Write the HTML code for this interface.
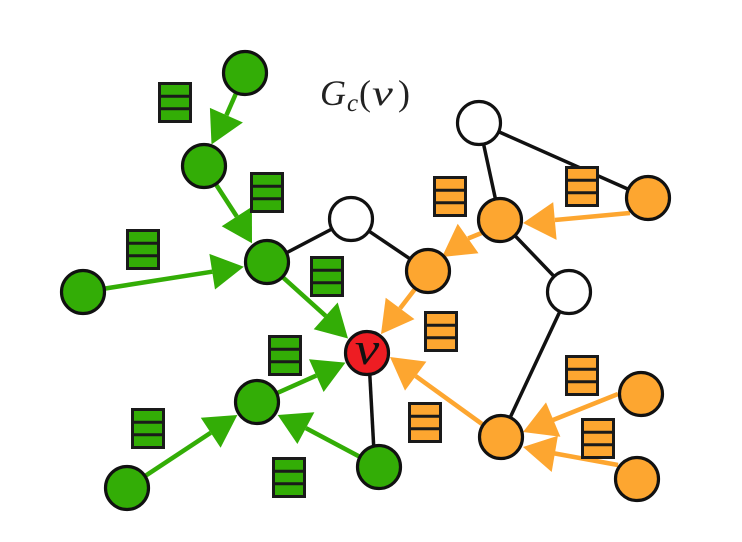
<!DOCTYPE html>
<html><head><meta charset="utf-8"><style>
html,body{margin:0;padding:0;background:#fff;}
svg{display:block;}
</style></head><body>
<svg width="742" height="542" viewBox="0 0 742 542" xmlns="http://www.w3.org/2000/svg">
<rect width="742" height="542" fill="#fff"/>
<defs>
<g id="gb"><rect x="1.5" y="1.5" width="31" height="38" fill="#33ad06" stroke="#1a1a1a" stroke-width="3"/><line x1="1.5" y1="14.2" x2="32.5" y2="14.2" stroke="#1a1a1a" stroke-width="3"/><line x1="1.5" y1="26.8" x2="32.5" y2="26.8" stroke="#1a1a1a" stroke-width="3"/></g>
<g id="ob"><rect x="1.5" y="1.5" width="31" height="38" fill="#fda630" stroke="#1a1a1a" stroke-width="3"/><line x1="1.5" y1="14.2" x2="32.5" y2="14.2" stroke="#1a1a1a" stroke-width="3"/><line x1="1.5" y1="26.8" x2="32.5" y2="26.8" stroke="#1a1a1a" stroke-width="3"/></g>
</defs>

<!-- black edges -->
<g stroke="#111" stroke-width="3.5" fill="none">
<line x1="351" y1="219" x2="267" y2="263"/>
<line x1="351" y1="219" x2="428" y2="271"/>
<line x1="479" y1="123" x2="648" y2="198"/>
<line x1="479" y1="123" x2="500" y2="220"/>
<line x1="500" y1="220" x2="569" y2="292"/>
<line x1="569" y1="292" x2="501" y2="437"/>
<line x1="369" y1="360" x2="374" y2="452"/>
</g>

<!-- green arrows -->
<g stroke="#33ad06" stroke-width="4.5" fill="none">
<line x1="245" y1="73" x2="226.4" y2="115.2"/>
<line x1="204" y1="166" x2="236.8" y2="216.5"/>
<line x1="83" y1="292" x2="212.2" y2="271.7"/>
<line x1="267" y1="263" x2="325.7" y2="315.9"/>
<line x1="257" y1="402" x2="316.3" y2="375.6"/>
<line x1="127" y1="488" x2="210.7" y2="432.7"/>
<line x1="379" y1="467" x2="305.9" y2="428.1"/>
</g>
<g fill="#33ad06">
<polygon points="211.5,144.5 242.9,122.5 209.9,107.9"/>
<polygon points="252,243.3 221.7,226.3 251.9,206.7"/>
<polygon points="243.8,266.7 215.0,289.5 209.4,253.9"/>
<polygon points="348,338.5 313.7,329.3 337.7,302.5"/>
<polygon points="345.5,362.6 323.6,392.0 309.0,359.2"/>
<polygon points="237.4,415.0 220.6,447.7 200.8,417.7"/>
<polygon points="277.7,415 314.4,412.2 297.4,444.0"/>
</g>

<!-- orange arrows -->
<g stroke="#fda630" stroke-width="4.5" fill="none">
<line x1="630" y1="213" x2="554.9" y2="220"/>
<line x1="484" y1="232" x2="468.1" y2="238.5"/>
<line x1="415" y1="289" x2="400.1" y2="308.4"/>
<line x1="482" y1="424" x2="415.7" y2="376.1"/>
<line x1="618" y1="394" x2="552.7" y2="420.1"/>
<line x1="618" y1="465" x2="554.3" y2="453.4"/>
</g>
<g fill="#fda630">
<polygon points="523,223 553.2,202.1 556.6,239.9"/>
<polygon points="442,257 457.7,223.8 478.5,253.2"/>
<polygon points="381,334.1 385.7,297.7 414.5,319.1"/>
<polygon points="390,357 426.4,361.6 405.0,390.6"/>
<polygon points="523,432 560.4,436.8 546.0,402.4"/>
<polygon points="523,447 557.9,435.8 551.7,472"/>
</g>

<!-- boxes -->
<use href="#gb" x="158" y="82"/>
<use href="#gb" x="250" y="172"/>
<use href="#gb" x="126" y="229"/>
<use href="#gb" x="310" y="256"/>
<use href="#gb" x="268" y="335"/>
<use href="#gb" x="131" y="408"/>
<use href="#gb" x="272" y="457"/>
<use href="#ob" x="433" y="176"/>
<use href="#ob" x="565" y="166"/>
<use href="#ob" x="424" y="311"/>
<use href="#ob" x="408" y="402"/>
<use href="#ob" x="565" y="355"/>
<use href="#ob" x="581" y="418"/>

<!-- nodes -->
<g stroke="#111" stroke-width="3.2">
<g fill="#33ad06">
<circle cx="245" cy="73" r="21.5"/>
<circle cx="204" cy="166" r="21.5"/>
<circle cx="267" cy="262" r="21.5"/>
<circle cx="83" cy="292" r="21.5"/>
<circle cx="257" cy="402" r="21.5"/>
<circle cx="127" cy="488" r="21.5"/>
<circle cx="379" cy="467" r="21.5"/>
</g>
<g fill="#fff">
<circle cx="351" cy="219" r="21.5"/>
<circle cx="479" cy="123" r="21.5"/>
<circle cx="569" cy="292" r="21.5"/>
</g>
<g fill="#fda630">
<circle cx="648" cy="198" r="21.5"/>
<circle cx="500" cy="220" r="21.5"/>
<circle cx="428" cy="271" r="21.5"/>
<circle cx="501" cy="437" r="21.5"/>
<circle cx="641" cy="394" r="21.5"/>
<circle cx="637" cy="479" r="21.5"/>
</g>
<circle cx="367" cy="353" r="21.5" fill="#ee1d23"/>
</g>

<!-- v label -->
<text x="367" y="364" text-anchor="middle" font-family="'Liberation Serif', serif" font-style="italic" font-size="46" fill="#111" transform="translate(367 0) scale(1.2 1) translate(-367 0)">v</text>

<!-- title -->
<g font-family="'Liberation Serif', serif" fill="#222">
<text x="320" y="105" font-style="italic" font-size="36">G</text>
<text x="347" y="111" font-style="italic" font-size="25">c</text>
<text x="359" y="105" font-size="36">(</text>
<text x="372" y="105" font-style="italic" font-size="36" transform="translate(372 0) scale(1.3 1) translate(-372 0)">v</text>
<text x="398" y="105" font-size="36">)</text>
</g>
</svg>
</body></html>
